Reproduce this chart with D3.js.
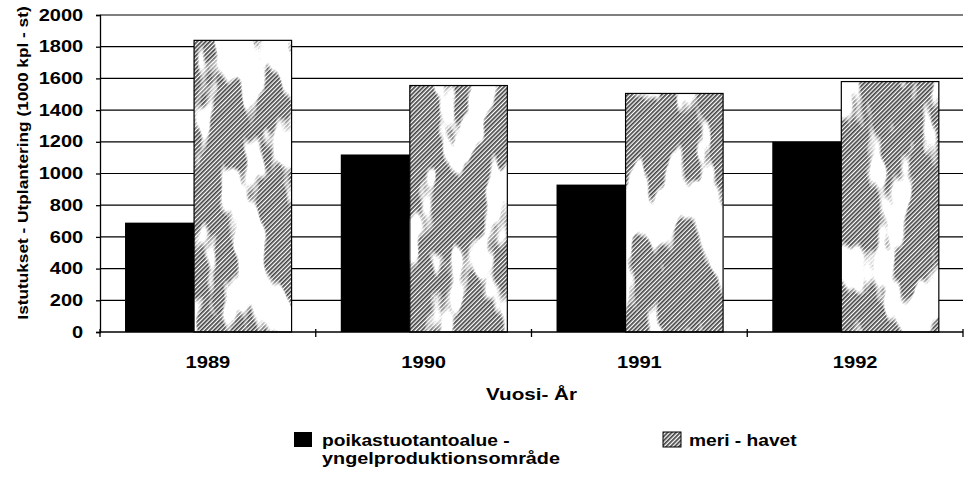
<!DOCTYPE html>
<html><head><meta charset="utf-8">
<script src="https://cdn.jsdelivr.net/npm/d3@7"></script>
<style>
html,body{margin:0;padding:0;background:#fff;}
text{font-family:"Liberation Sans",Arial,sans-serif;font-weight:bold;fill:#000;}
</style></head>
<body>
<svg id="chart" width="967" height="482"></svg>
<script>
const years = ["1989", "1990", "1991", "1992"];
const poikastuotanto = [690, 1120, 930, 1200];
const meri = [1840, 1555, 1505, 1580];
const yTicks = [0, 200, 400, 600, 800, 1000, 1200, 1400, 1600, 1800, 2000];
const seriesNames = ["poikastuotantoalue -\nyngelproduktionsområde", "meri - havet"];
const yTitle = "Istutukset - Utplantering (1000 kpl - st)";
const xTitle = "Vuosi- År";

(function () {
const svg = d3.select("#chart");
const pLeft = 100, pRight = 963, pTop = 15, pBottom = 332;
const SX = 1.22; // horizontal stretch of the scanned lettering

function addText(parent, x, y, str, size, sx, anchor) {
  return parent.append("text")
    .attr("transform", `translate(${x},${y}) scale(${sx},1)`)
    .attr("text-anchor", anchor || "start")
    .style("font-size", size + "px").text(str);
}

const defs = svg.append("defs");
const pat = defs.append("pattern").attr("id","hatch").attr("patternUnits","userSpaceOnUse")
  .attr("width",3).attr("height",3).attr("patternTransform","rotate(45)");
pat.append("rect").attr("width",3).attr("height",3).attr("fill","#fff");
pat.append("rect").attr("width",1.7).attr("height",3).attr("fill","#444");
const filt = defs.append("filter").attr("id","blotch").attr("x",0).attr("y",0).attr("width",1).attr("height",1);
filt.append("feTurbulence").attr("type","fractalNoise").attr("baseFrequency","0.03 0.012")
  .attr("numOctaves",3).attr("seed",7).attr("result","noise");
filt.append("feColorMatrix").attr("in","noise").attr("type","matrix")
  .attr("values","0 0 0 0 1  0 0 0 0 1  0 0 0 0 1  14 0 0 0 -7");

const y = d3.scaleLinear().domain([0, 2000]).range([pBottom, pTop]);
const x = d3.scaleBand().domain(years).range([pLeft, pRight]).paddingInner(0).paddingOuter(0);
const bw = x.bandwidth();

// gridlines
svg.append("g").selectAll("line").data(yTicks.filter(d => d > 0)).join("line")
  .attr("x1", pLeft).attr("x2", pRight).attr("y1", d => y(d)).attr("y2", d => y(d))
  .attr("stroke", "#000").attr("stroke-width", 1.2);

// bars
const g = svg.append("g");
years.forEach((yr, i) => {
  const x0 = x(yr);
  g.append("rect").attr("x", x0 + bw * 0.116).attr("width", bw * 0.32)
    .attr("y", y(poikastuotanto[i])).attr("height", y(0) - y(poikastuotanto[i])).attr("fill", "#000");
  const gx = x0 + bw * 0.436, gw = bw * 0.452;
  g.append("rect").attr("x", gx).attr("width", gw)
    .attr("y", y(meri[i])).attr("height", y(0) - y(meri[i])).attr("fill", "url(#hatch)");
  g.append("rect").attr("x", gx).attr("width", gw)
    .attr("y", y(meri[i])).attr("height", y(0) - y(meri[i])).attr("fill", "#fff").attr("filter","url(#blotch)");
  g.append("rect").attr("x", gx).attr("width", gw)
    .attr("y", y(meri[i])).attr("height", y(0) - y(meri[i])).attr("fill", "none")
    .attr("stroke", "#000").attr("stroke-width", 1.2);
});

// y axis
const yAxis = svg.append("g").attr("transform", `translate(${pLeft},0)`)
  .call(d3.axisLeft(y).tickValues(yTicks).tickSize(4).tickPadding(9.5).tickFormat(d3.format("d")));
yAxis.selectAll("text").style("font-size", "16px").attr("transform", `scale(${SX + 0.03},1)`);
yAxis.selectAll("line,path").attr("stroke", "#000").attr("stroke-width", 1.3);

// x axis
const xAxis = svg.append("g").attr("transform", `translate(0,${pBottom})`);
xAxis.append("line").attr("x1", pLeft).attr("x2", pRight).attr("stroke", "#000").attr("stroke-width", 1.5);
const bounds = years.map(d => x(d)).concat([pRight]);
xAxis.selectAll("line.t").data(bounds).join("line").attr("class","t")
  .attr("x1", d => d).attr("x2", d => d).attr("y1", -3).attr("y2", 5).attr("stroke", "#000").attr("stroke-width", 1.3);
years.forEach(d => addText(xAxis, x(d) + bw / 2, 36, d, 16.5, SX, "middle"));

// axis titles
svg.append("text").attr("transform", `translate(27.5,163) rotate(-90) scale(1.15,1)`)
  .attr("text-anchor", "middle").style("font-size", "15px").text(yTitle);
addText(svg, (pLeft + pRight) / 2, 400, xTitle, 16.5, 1.25, "middle");

// legend
const leg = svg.append("g");
leg.append("rect").attr("x", 294).attr("y", 432).attr("width", 18).attr("height", 15).attr("fill", "#000");
const lines = seriesNames[0].split("\n");
lines.forEach((l, i) => addText(leg, 322, 446 + i * 17.5, l, 16, 1.2 + i * 0.04));
leg.append("rect").attr("x", 663).attr("y", 432).attr("width", 18).attr("height", 15).attr("fill", "url(#hatch)")
  .attr("stroke", "#000").attr("stroke-width", 1);
addText(leg, 689, 446, seriesNames[1], 16, 1.2);
})();
</script>
</body></html>
